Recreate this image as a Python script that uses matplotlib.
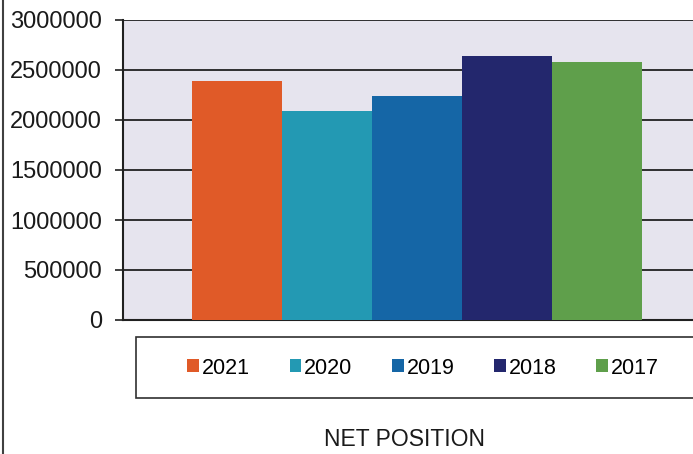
import matplotlib.pyplot as plt
from matplotlib.patches import Rectangle
from matplotlib.lines import Line2D

years = ['2021', '2020', '2019', '2018', '2017']
net_position = [2390000, 2090000, 2240000, 2640000, 2580000]
colors = ['#e05a28', '#2399b3', '#1566a6', '#23276d', '#5f9f4b']
yticks = [0, 500000, 1000000, 1500000, 2000000, 2500000, 3000000]

plt.rcParams['font.family'] = ['Liberation Sans', 'DejaVu Sans']

W, H = 693, 454
fig = plt.figure(figsize=(W / 100, H / 100), dpi=100)
fig.patch.set_facecolor('white')

# plot area runs off the right edge, like the cropped original
ax = fig.add_axes([123 / W, 1 - 320 / H, 588 / W, 300 / H])
ax.set_facecolor('#e6e4ee')

bar_w = 90 / 588
n = len(years)
for i, (yr, val, c) in enumerate(zip(years, net_position, colors)):
    ax.bar((i - (n - 1) / 2) * bar_w, val, width=bar_w, color=c, label=yr, zorder=3)

ax.set_xlim(-0.5, 0.5)
ax.set_ylim(0, 3000000)
ax.set_yticks(yticks)
ax.set_yticklabels([str(v) for v in yticks], fontsize=17, color='#1a1a1a')
ax.yaxis.grid(True, color='#202020', linewidth=1.3, zorder=1)
ax.set_axisbelow(True)
ax.set_xticks([])
ax.tick_params(axis='y', direction='out', length=6, width=1.2, color='#202020', pad=9)
for side in ['top', 'right']:
    ax.spines[side].set_visible(False)
ax.spines['left'].set_color('#202020')
ax.spines['left'].set_linewidth(1.5)
ax.spines['bottom'].set_color('#202020')
ax.spines['bottom'].set_linewidth(1.5)

# legend box below the plot area
fig.patches.append(Rectangle((136 / W, 1 - 398 / H), 600 / W, 61 / H,
                             transform=fig.transFigure, facecolor='white',
                             edgecolor='#303030', linewidth=1.2, zorder=1))
handles, labels = ax.get_legend_handles_labels()
leg = fig.legend(handles, labels, ncol=5, frameon=False, fontsize=15.5,
                 loc='center', bbox_to_anchor=(423 / W, 1 - 368 / H),
                 handlelength=0.55, handleheight=0.55, handletextpad=0.12,
                 columnspacing=1.85)
leg.set_zorder(2)

fig.text(405 / W, 1 - 439 / H, 'NET POSITION', ha='center', va='center',
         fontsize=16.5, color='#1a1a1a')

# outer chart border on the left
fig.lines.append(Line2D([2.5 / W, 2.5 / W], [0, 1], transform=fig.transFigure,
                        color='#404040', linewidth=1.5))

fig.savefig('out.png', dpi=100)
